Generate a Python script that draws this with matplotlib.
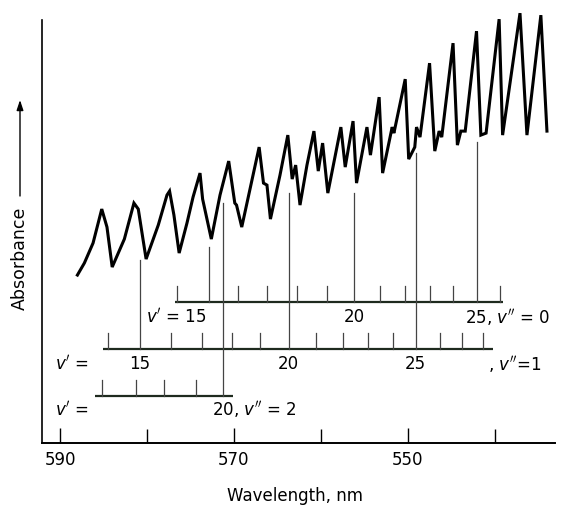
"""Iodine vapour absorption spectrum with v' progressions for v'' = 0, 1, 2."""

import matplotlib
matplotlib.use("Agg")
import matplotlib.pyplot as plt

plt.rcParams['font.family'] = ['DejaVu Sans']
plt.rcParams['mathtext.fontset'] = 'dejavusans'

# spectrum trace (wavelength nm, absorbance arb. units)
wl = [588.0, 587.2, 586.2, 585.2, 584.6, 584.0, 582.6, 581.5, 581.0, 580.1,
      578.7, 577.7, 577.4, 576.9, 576.3, 575.4, 574.7, 573.9, 573.6, 573.1,
      572.6, 571.6, 570.6, 569.9, 569.7, 569.1, 568.2, 567.1, 566.6, 566.2,
      565.8, 564.7, 563.8, 563.3, 562.9, 562.4, 561.6, 560.8, 560.3, 559.8,
      559.2, 557.7, 557.2, 556.3, 555.9, 554.7, 554.3, 553.3, 552.9, 551.8,
      551.6, 550.3, 549.9, 549.2, 549.0, 548.6, 547.5, 546.9, 546.4, 546.1,
      544.8, 544.3, 543.9, 543.4, 542.1, 541.6, 541.0, 539.5, 539.1, 537.1,
      536.3, 534.7, 534.0]
absorb = [0.42, 0.45, 0.50, 0.585, 0.54, 0.44, 0.51, 0.60, 0.585, 0.46,
          0.545, 0.62, 0.63, 0.57, 0.475, 0.55, 0.615, 0.675, 0.61, 0.56,
          0.51, 0.62, 0.705, 0.60, 0.595, 0.54, 0.63, 0.74, 0.65, 0.645,
          0.56, 0.67, 0.77, 0.66, 0.695, 0.595, 0.695, 0.78, 0.68, 0.75,
          0.625, 0.79, 0.69, 0.805, 0.65, 0.79, 0.72, 0.865, 0.675, 0.79,
          0.775, 0.91, 0.71, 0.74, 0.79, 0.765, 0.95, 0.73, 0.78, 0.765,
          1.00, 0.745, 0.78, 0.78, 1.03, 0.77, 0.775, 1.06, 0.77, 1.075,
          0.77, 1.07, 0.78]

# band heads of each progression (wavelength nm)
v0_first = 14
v0_pos = [576.6, 572.9, 569.5, 566.2, 562.8, 559.3, 556.2, 553.2, 550.3,
          547.5, 544.8, 542.0, 539.4]
v1_first = 14
v1_pos = [584.5, 580.8, 577.2, 573.7, 570.2, 567.0, 563.7, 560.6, 557.5,
          554.6, 551.7, 549.1, 546.3, 543.8, 541.4]
v2_first = 16
v2_pos = [585.2, 581.3, 578.0, 574.4, 571.3]

# where the guide lines of the marked bands meet the trace
v0_marks = {15: 0.49, 20: 0.625, 25: 0.7525}
v1_marks = {15: 0.4575, 20: 0.625, 25: 0.725}
v2_marks = {20: 0.60}

# bar levels and extents
levels = {0: 0.3525, 1: 0.235, 2: 0.1175}
extents = {0: (576.8, 539.1), 1: (585.1, 540.2), 2: (586.0, 570.1)}

fig = plt.figure(figsize=(5.61, 5.05), dpi=100)
ax = fig.add_axes([0.0749, 0.1228, 0.914, 0.867])

ax.plot(wl, absorb, color='black', lw=2.2, solid_joinstyle='miter')

tick_h = 0.04
for vpp, pos, first, marks in [(0, v0_pos, v0_first, v0_marks),
                               (1, v1_pos, v1_first, v1_marks),
                               (2, v2_pos, v2_first, v2_marks)]:
    y = levels[vpp]
    ax.plot(extents[vpp], [y, y], color='#1e2a1e', lw=1.6, solid_capstyle='butt')
    for i, x in enumerate(pos):
        v = first + i
        top = marks.get(v, y + tick_h)
        ax.plot([x, x], [y, top], color='#444444', lw=0.9)

tfs = 12
ax.text(580.1, 0.315, r"$v'$ = 15", fontsize=tfs, va='center', ha='left')
ax.text(556.2, 0.315, "20", fontsize=tfs, va='center', ha='center')
ax.text(543.4, 0.315, r"25, $v''$ = 0", fontsize=tfs, va='center', ha='left')
ax.text(590.6, 0.1975, r"$v'$ =", fontsize=tfs, va='center', ha='left')
ax.text(580.8, 0.1975, "15", fontsize=tfs, va='center', ha='center')
ax.text(563.7, 0.1975, "20", fontsize=tfs, va='center', ha='center')
ax.text(549.1, 0.1975, "25", fontsize=tfs, va='center', ha='center')
ax.text(540.8, 0.1975, r", $v''$=1", fontsize=tfs, va='center', ha='left')
ax.text(590.6, 0.0825, r"$v'$ =", fontsize=tfs, va='center', ha='left')
ax.text(572.5, 0.0825, r"20, $v''$ = 2", fontsize=tfs, va='center', ha='left')

ax.set_xlim(592.07, 533.1)
ax.set_ylim(0, 1.095)
ax.set_xticks([590, 570, 550])
ax.set_xticks([580, 560, 540], minor=True)
ax.set_yticks([])
ax.tick_params(axis='x', which='major', direction='in', length=11, width=1.0,
               labelsize=12, pad=6)
ax.tick_params(axis='x', which='minor', direction='in', length=10, width=1.0)
for s in ['top', 'right']:
    ax.spines[s].set_visible(False)
ax.spines['left'].set_bounds(0, 1.0575)
ax.spines['left'].set_linewidth(1.2)
ax.spines['bottom'].set_linewidth(1.4)

fig.text(295 / 561, 1 - 496 / 505, "Wavelength, nm", fontsize=12,
         ha='center', va='center')
fig.text(20 / 561, 1 - 258 / 505, "Absorbance", fontsize=12.5, rotation=90,
         ha='center', va='center')
ax.annotate("", xy=(20 / 561, 1 - 100 / 505), xytext=(20 / 561, 1 - 196 / 505),
            xycoords='figure fraction', textcoords='figure fraction',
            arrowprops=dict(arrowstyle='-|>,head_length=0.6,head_width=0.2',
                            color='black', lw=1.0, shrinkA=0, shrinkB=0))

fig.savefig("out.png", dpi=100)
